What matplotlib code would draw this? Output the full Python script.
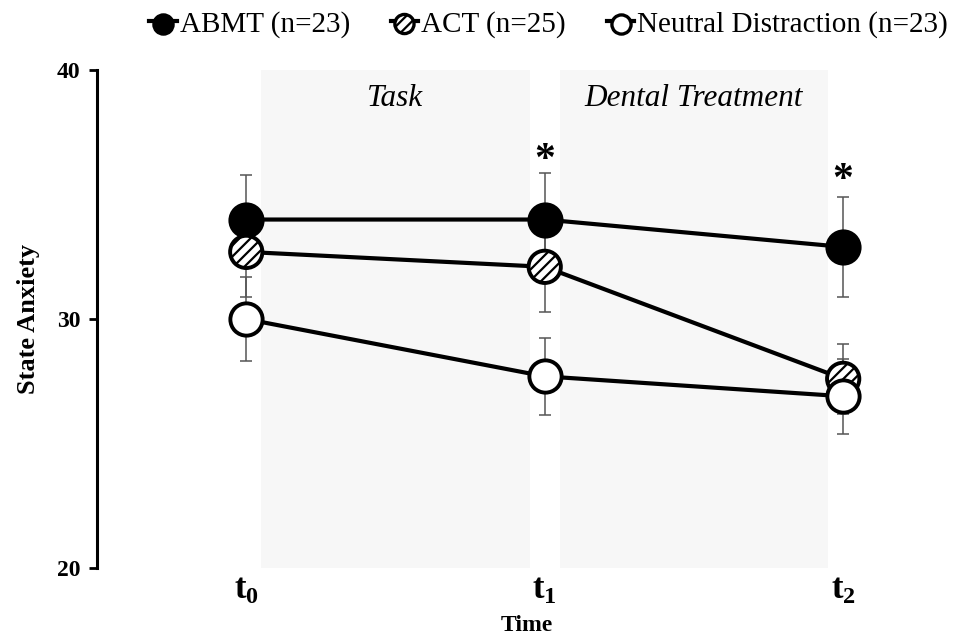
import matplotlib
matplotlib.use("Agg")
import matplotlib.pyplot as plt
from matplotlib.lines import Line2D

plt.rcParams["font.family"] = ["Liberation Serif", "DejaVu Serif"]
plt.rcParams["mathtext.fontset"] = "custom"
plt.rcParams["mathtext.rm"] = "Liberation Serif"
plt.rcParams["mathtext.bf"] = "Liberation Serif:bold"
plt.rcParams["hatch.linewidth"] = 1.6

# data
times = [0, 1, 2]
time_labels = [r"$\mathbf{t_0}$", r"$\mathbf{t_1}$", r"$\mathbf{t_2}$"]
phases = ["Task", "Dental Treatment"]
sig_times = [1, 2]
sig_heights = [36.35, 35.55]

abmt_mean = [34.0, 34.0, 32.9]
abmt_se = [1.8, 1.85, 2.0]
act_mean = [32.7, 32.1, 27.6]
act_se = [1.8, 1.8, 1.4]
neutral_mean = [30.0, 27.7, 26.9]
neutral_se = [1.7, 1.55, 1.5]

groups = [
    ("ABMT (n=23)", abmt_mean, abmt_se, "black", None),
    ("ACT (n=25)", act_mean, act_se, "white", "///"),
    ("Neutral Distraction (n=23)", neutral_mean, neutral_se, "white", None),
]

fig = plt.figure(figsize=(9.56, 6.44), dpi=100)
ax = fig.add_axes([0.1015, 0.118, 0.8985, 0.773])

# shaded phases between the time points
for i, name in enumerate(phases):
    x0, x1 = times[i] + 0.05, times[i + 1] - 0.05
    ax.axvspan(x0, x1, color="#f7f7f7", zorder=0, lw=0)
    ax.text((x0 + x1) / 2, 38.85, name, ha="center", va="center",
            style="italic", fontsize=22.5, zorder=1)

handles = []
for k, (label, mean, se, face, hatch) in enumerate(groups):
    ax.errorbar(times, mean, yerr=se, fmt="none", ecolor="#555555",
                elinewidth=1.1, capsize=4, capthick=1.1, zorder=2)
    ax.plot(times, mean, color="black", lw=3, zorder=3 + k)
    ax.scatter(times, mean, s=540, facecolor=face, edgecolor="black",
               linewidths=2.8, hatch=hatch, zorder=3.5 + k)
    ln = Line2D([], [], color="black", lw=3)
    mk = ax.scatter([], [], s=190, facecolor=face, edgecolor="black",
                    linewidths=2.4, hatch=hatch)
    handles.append((ln, mk))

for t, h in zip(sig_times, sig_heights):
    ax.text(t, h, "*", ha="center", va="center", fontsize=30,
            fontweight="bold")

ax.set_xlim(-0.5, 2.378)
ax.set_ylim(20, 40)
ax.set_yticks([20, 30, 40])
ax.set_xticks(times)
ax.set_xticklabels(time_labels, fontsize=25)
ax.tick_params(axis="x", length=0, pad=4)
ax.tick_params(axis="y", direction="out", length=6, width=2, pad=6,
               labelsize=17)
for lab in ax.get_yticklabels():
    lab.set_fontweight("bold")

for side in ["top", "right", "bottom"]:
    ax.spines[side].set_visible(False)
ax.spines["left"].set_linewidth(2.2)

ax.set_ylabel("State Anxiety", fontsize=19, fontweight="bold", labelpad=12)
ax.set_xlabel("Time", fontsize=17, fontweight="bold", labelpad=6)

fig.legend(handles, [g[0] for g in groups], loc="upper right",
           bbox_to_anchor=(1.01, 1.01), ncol=3, frameon=False, fontsize=21,
           handlelength=0.95, handletextpad=0.1, columnspacing=1.4,
           borderaxespad=0.2)

fig.savefig("out.png", dpi=100)
